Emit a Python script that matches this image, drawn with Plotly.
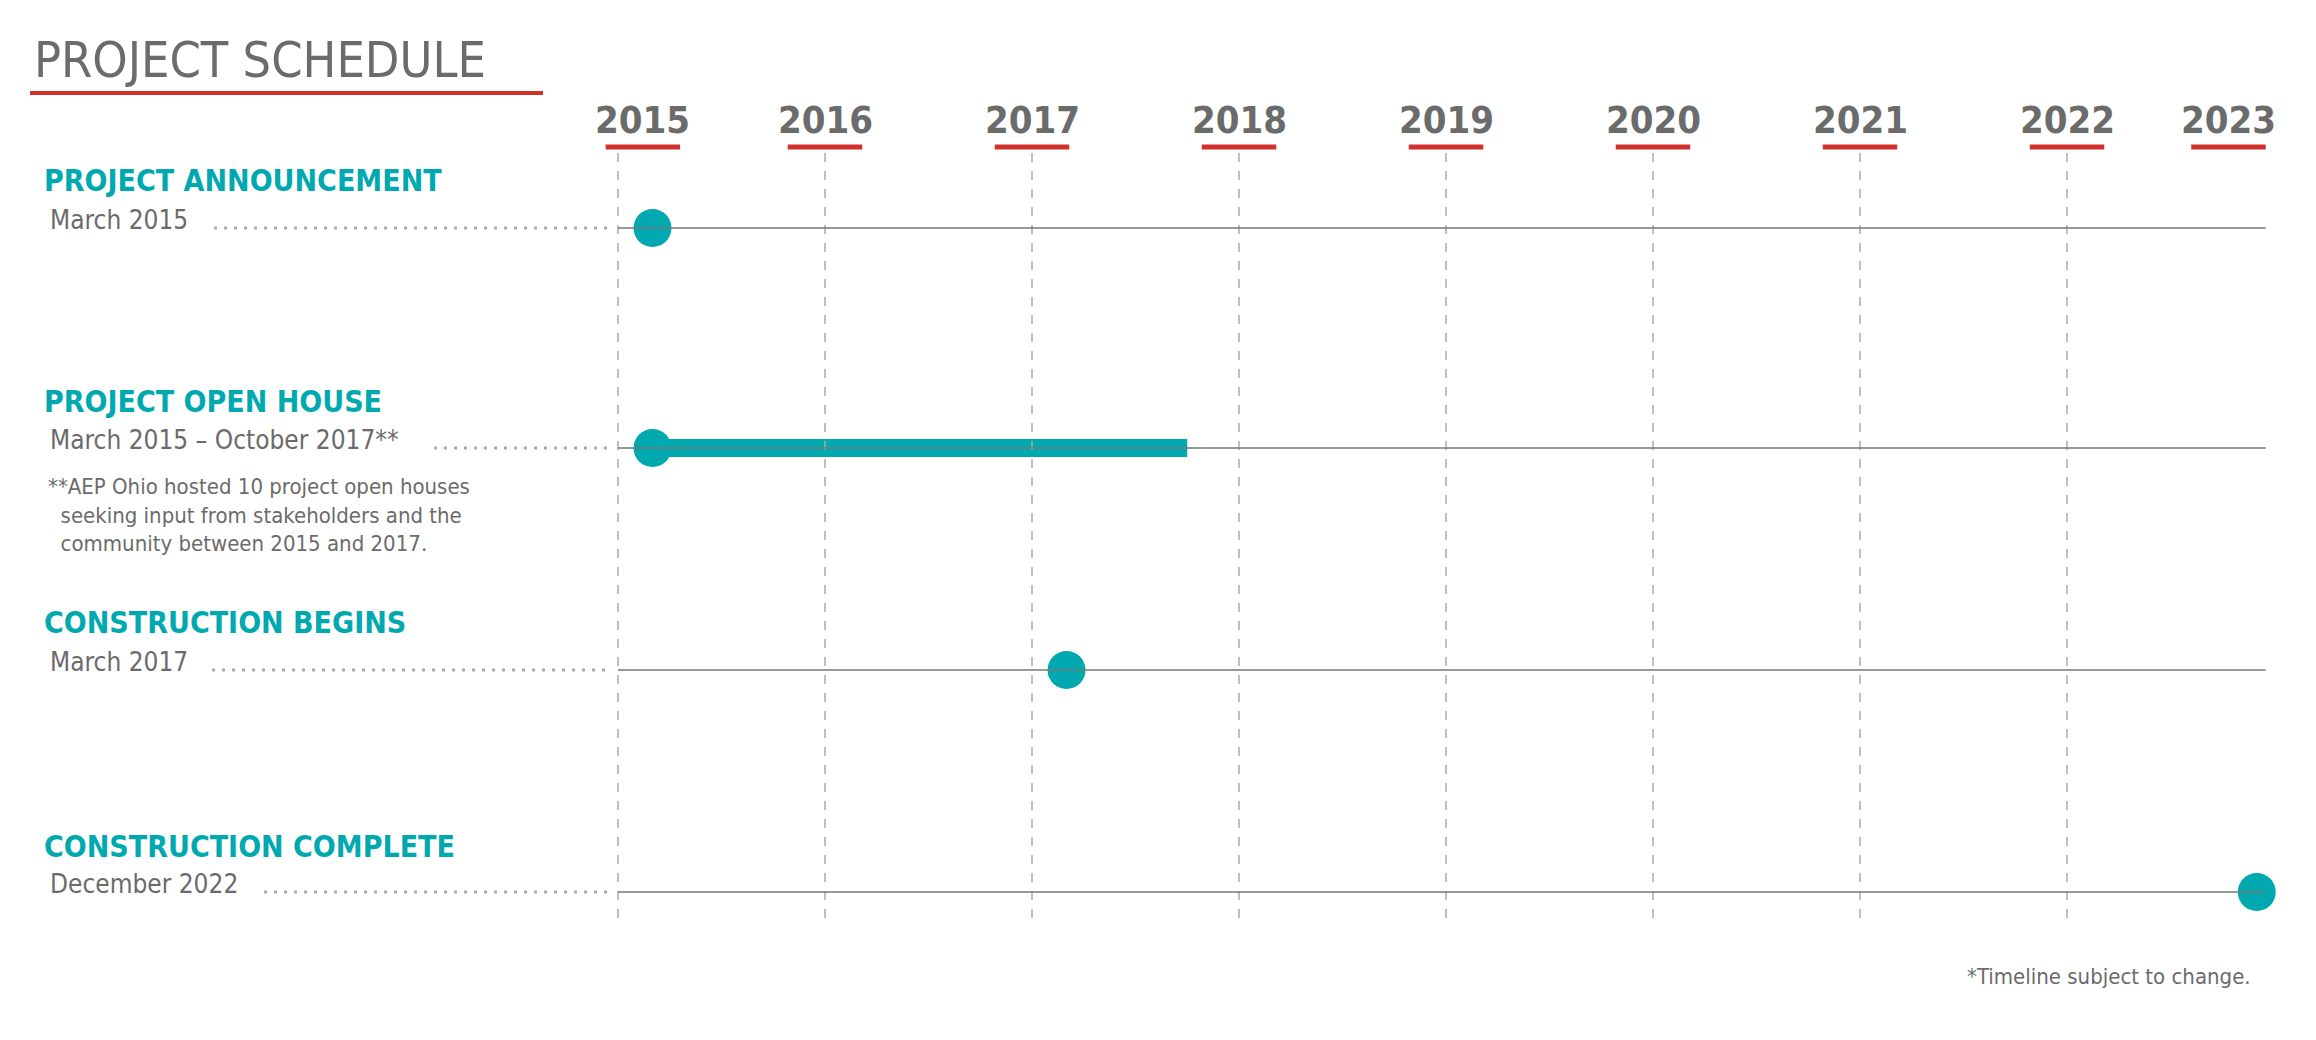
import plotly.graph_objects as go

years = [2015, 2016, 2017, 2018, 2019, 2020, 2021, 2022, 2023]
milestones = ['PROJECT ANNOUNCEMENT', 'PROJECT OPEN HOUSE', 'CONSTRUCTION BEGINS', 'CONSTRUCTION COMPLETE']
date_labels = ['March 2015', 'March 2015 – October 2017**', 'March 2017', 'December 2022']
starts = [2015 + 2/12, 2015 + 2/12, 2017 + 2/12, 2022 + 11/12]
ends = [None, 2017 + 9/12, None, None]
note = '**AEP Ohio hosted 10 project open houses<br>  seeking input from stakeholders and the<br>  community between 2015 and 2017.'

TEAL = '#00A9B0'
RED = '#D0312D'
GREY = '#6b6b6b'
FONT = 'Liberation Sans Narrow, DejaVu Sans Condensed, Roboto'

# pixel-ish layout: x in years, y in pixels (top = 0)
px_year = 207
x0 = 2015 - 610 / px_year
x1 = x0 + 2316 / px_year
x_end = 2022.96
row_y = [220, 440, 662, 884]
label_y = [172, 393, 614, 838]
text_end = [200, 420, 198, 250]

def px(p):
    return x0 + p / px_year

fig = go.Figure()
shapes = []
annotations = []

for yr in years[:-1]:
    shapes.append(dict(type='line', xref='x', yref='y', x0=yr, x1=yr, y0=145, y1=915,
                       line=dict(color='#aaaaaa', width=1.5, dash='dash')))
for yr in years:
    lx = min(max(yr, 2015.12), 2022.78)
    annotations.append(dict(x=lx, y=112, text='<b>%d</b>' % yr, showarrow=False,
                            font=dict(family=FONT, size=38, color=GREY), xanchor='center', yanchor='middle'))
    shapes.append(dict(type='line', xref='x', yref='y', x0=lx - 0.18, x1=lx + 0.18, y0=139, y1=139,
                       line=dict(color=RED, width=5)))

for i, name in enumerate(milestones):
    shapes.append(dict(type='line', xref='x', yref='y', x0=2015, x1=x_end, y0=row_y[i], y1=row_y[i],
                       line=dict(color='#777777', width=1.5)))
    shapes.append(dict(type='line', xref='x', yref='y', x0=px(text_end[i] + 6), x1=px(600), y0=row_y[i], y1=row_y[i],
                       line=dict(color='#aaaaaa', width=3, dash='3px,7px')))
    annotations.append(dict(x=px(34), y=label_y[i], text='<b>' + name + '</b>', showarrow=False,
                            font=dict(family=FONT, size=30, color=TEAL), xanchor='left', yanchor='middle'))
    annotations.append(dict(x=px(40), y=row_y[i] - 8, text=date_labels[i], showarrow=False,
                            font=dict(family=FONT, size=26, color=GREY), xanchor='left', yanchor='middle'))
    if ends[i] is not None:
        fig.add_trace(go.Scatter(x=[starts[i], ends[i]], y=[row_y[i], row_y[i]], mode='lines',
                                 line=dict(color=TEAL, width=18), cliponaxis=False))
    fig.add_trace(go.Scatter(x=[starts[i]], y=[row_y[i]], mode='markers', cliponaxis=False,
                             marker=dict(color=TEAL, size=38)))

annotations.append(dict(x=px(38), y=507, text=note, showarrow=False, align='left',
                        font=dict(family=FONT, size=22, color=GREY), xanchor='left', yanchor='middle'))
annotations.append(dict(x=px(24), y=52, text='PROJECT SCHEDULE', showarrow=False,
                        font=dict(family=FONT, size=50, color=GREY), xanchor='left', yanchor='middle'))
shapes.append(dict(type='line', xref='x', yref='y', x0=px(22), x1=px(535), y0=85, y1=85,
                   line=dict(color=RED, width=4)))
annotations.append(dict(x=px(2245), y=968, text='*Timeline subject to change.', showarrow=False,
                        font=dict(family=FONT, size=22, color=GREY), xanchor='right', yanchor='middle'))

fig.update_layout(width=2316, height=1040, margin=dict(l=0, r=0, t=0, b=0),
                  plot_bgcolor='white', paper_bgcolor='white', showlegend=False,
                  shapes=shapes, annotations=annotations,
                  xaxis=dict(range=[x0, x1], visible=False),
                  yaxis=dict(range=[1040, 0], visible=False))
fig.write_html('out.html')
